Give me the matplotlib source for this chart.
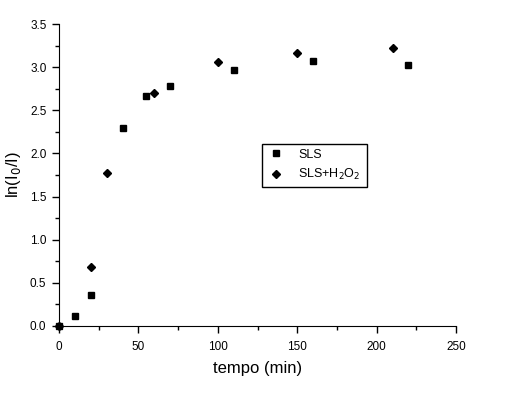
import matplotlib
matplotlib.use("Agg")
import matplotlib.pyplot as plt
from matplotlib.ticker import MultipleLocator

plt.rcParams['font.family'] = ['Liberation Sans', 'DejaVu Sans']

# SLS
t_sls = [0, 10, 20, 40, 55, 70, 110, 160, 220]
y_sls = [0.0, 0.11, 0.36, 2.30, 2.67, 2.78, 2.97, 3.07, 3.03]

# SLS + H2O2
t_h2o2 = [0, 20, 30, 60, 100, 150, 210]
y_h2o2 = [0.0, 0.68, 1.77, 2.70, 3.06, 3.16, 3.22]

fig = plt.figure(figsize=(5.13, 3.95), dpi=100)
ax = fig.add_axes([0.115, 0.175, 0.774, 0.764])

ax.plot(t_sls, y_sls, 's', color='black', ms=5, label='SLS', clip_on=False)
ax.plot(t_h2o2, y_h2o2, 'D', color='black', ms=4, label='SLS+H$_2$O$_2$', clip_on=False)

ax.set_xlim(0, 250)
ax.set_ylim(0, 3.5)
ax.xaxis.set_major_locator(MultipleLocator(50))
ax.xaxis.set_minor_locator(MultipleLocator(25))
ax.yaxis.set_major_locator(MultipleLocator(0.5))
ax.yaxis.set_minor_locator(MultipleLocator(0.25))
ax.yaxis.set_major_formatter(matplotlib.ticker.FormatStrFormatter('%.1f'))

for s in ['top', 'right']:
    ax.spines[s].set_visible(False)
ax.tick_params(which='major', direction='out', length=5, labelsize=8.5, width=1, pad=4)
ax.tick_params(axis='x', which='major', pad=6)
ax.tick_params(which='minor', direction='out', length=3, width=1)

ax.set_xlabel('tempo (min)', fontsize=12, labelpad=6)
ax.set_ylabel('ln(I$_0$/I)', fontsize=12, labelpad=5)

leg = ax.legend(loc='lower left', bbox_to_anchor=(0.511, 0.46, 0.264, 0.132),
                mode='expand', fancybox=False, edgecolor='black', framealpha=1,
                fontsize=9, handletextpad=1.0, borderaxespad=0, handlelength=1.5)
leg.get_frame().set_linewidth(1)

fig.savefig('out.png', dpi=100)
